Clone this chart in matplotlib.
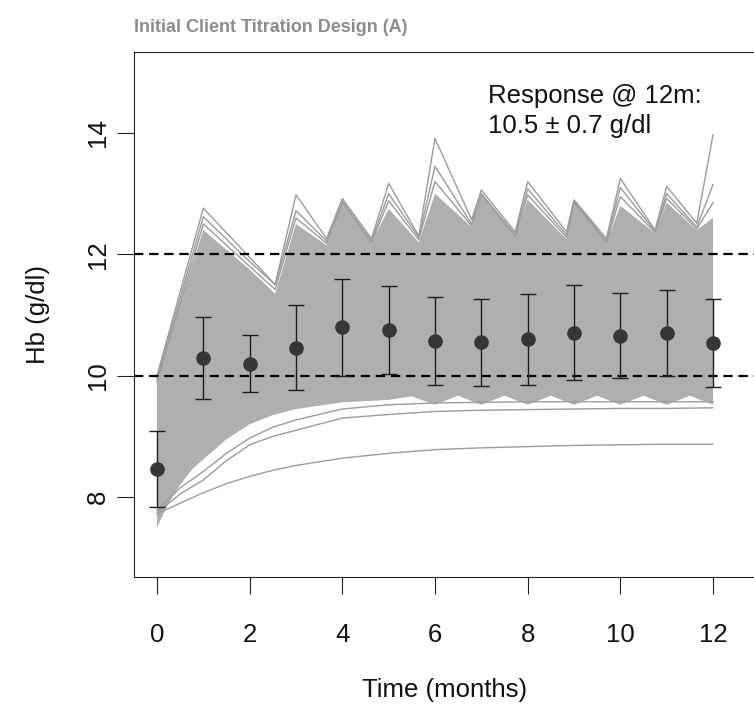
import numpy as np
import matplotlib
matplotlib.use("Agg")
import matplotlib.pyplot as plt
from matplotlib import font_manager

# ---- data -------------------------------------------------------------
months = np.arange(0, 13)
hb_mean = [8.46, 10.29, 10.20, 10.46, 10.80, 10.75, 10.57, 10.55, 10.60, 10.71, 10.66, 10.70, 10.54]
hb_sd = [0.62, 0.67, 0.47, 0.70, 0.80, 0.72, 0.72, 0.72, 0.75, 0.78, 0.70, 0.71, 0.72]
target_low, target_high = 10, 12

# time grid for the titrated (saw-tooth) trajectories
t_saw = [0, 1, 2, 2.55, 3, 3.66, 4, 4.63, 5, 5.65, 6, 6.79, 7, 7.73, 8, 8.84, 9, 9.7,
         10, 10.75, 11, 11.65, 12]
# upper edge of the bulk of simulated patients
band_upper = [10.0, 12.40, 11.75, 11.35, 12.50, 12.15, 12.85, 12.20, 12.75, 12.20, 13.00, 12.45,
              12.95, 12.30, 12.90, 12.25, 12.88, 12.20, 12.80, 12.35, 12.85, 12.40, 12.60]
# individual high responders
high_1 = [10.0, 12.76, 11.95, 11.50, 12.98, 12.26, 12.92, 12.26, 13.17, 12.30, 13.91, 12.57,
          13.06, 12.37, 13.20, 12.37, 12.90, 12.26, 13.25, 12.40, 13.12, 12.51, 13.97]
high_2 = [9.95, 12.62, 11.88, 11.50, 12.72, 12.22, 12.88, 12.22, 13.00, 12.28, 13.45, 12.50,
          13.00, 12.33, 13.08, 12.32, 12.88, 12.22, 13.10, 12.38, 13.00, 12.45, 13.15]
high_3 = [9.90, 12.50, 11.80, 11.42, 12.60, 12.18, 12.86, 12.20, 12.88, 12.24, 13.20, 12.47,
          12.97, 12.30, 12.98, 12.28, 12.86, 12.20, 12.95, 12.36, 12.92, 12.42, 12.85]

# lower edge of the bulk of simulated patients
t_band_low = [0, 0.25, 0.5, 0.75, 1, 1.5, 2, 2.5, 3, 4, 5, 5.5, 6, 6.5, 7, 7.5, 8, 8.5, 9,
              9.5, 10, 10.5, 11, 11.5, 12]
band_lower = [7.50, 7.90, 8.20, 8.45, 8.62, 8.95, 9.20, 9.35, 9.45, 9.56, 9.60, 9.66, 9.52,
              9.67, 9.52, 9.67, 9.52, 9.67, 9.52, 9.67, 9.52, 9.67, 9.52, 9.67, 9.52]

# individual low responders
t_low = [0, 0.5, 1, 1.5, 2, 2.5, 3, 4, 5, 6, 7, 8, 9, 10, 11, 12]
low_1 = [7.72, 7.90, 8.07, 8.22, 8.34, 8.44, 8.52, 8.64, 8.72, 8.78, 8.81, 8.83, 8.85, 8.86, 8.87, 8.87]
low_2 = [7.74, 8.05, 8.28, 8.60, 8.86, 9.00, 9.10, 9.30, 9.36, 9.41, 9.43, 9.44, 9.45, 9.46, 9.46, 9.47]
low_3 = [7.78, 8.15, 8.42, 8.72, 8.97, 9.15, 9.27, 9.45, 9.52, 9.55, 9.56, 9.57, 9.57, 9.57, 9.57, 9.57]

title = "Initial Client Titration Design (A)"

# ---- fonts ------------------------------------------------------------
installed = {f.name for f in font_manager.fontManager.ttflist}
base_font = "Liberation Sans" if "Liberation Sans" in installed else "DejaVu Sans"
title_font = "Liberation Sans Narrow" if "Liberation Sans Narrow" in installed else base_font
plt.rcParams["font.family"] = [base_font, "DejaVu Sans"]

FS = 18.5

# ---- figure -----------------------------------------------------------
fig = plt.figure(figsize=(7.54, 7.12), dpi=100)
ax = fig.add_axes([134 / 754, 1 - 577 / 712, (755 - 134) / 754, (577 - 52) / 712])

band_fill = "#afafaf"
line_grey = "#9c9c9c"

ax.fill(np.concatenate([t_saw, t_band_low[::-1]]),
        np.concatenate([band_upper, band_lower[::-1]]),
        color=band_fill, lw=0, zorder=1)
for path in (high_1, high_2, high_3):
    ax.plot(t_saw, path, color=line_grey, lw=1.0, zorder=2)
for path in (low_1, low_2, low_3):
    ax.plot(t_low, path, color=line_grey, lw=1.0, zorder=2)

for level in (target_low, target_high):
    ax.axhline(level, color="black", lw=1.6, dashes=(4.2, 2.6), zorder=3)

ax.errorbar(months, hb_mean, yerr=hb_sd, fmt="o", color="#1c1c1c", ecolor="#1c1c1c",
            elinewidth=1.0, capsize=5.5, capthick=1.0, markersize=9.5,
            markerfacecolor="#363636", markeredgecolor="#363636", zorder=4)

resp_mean, resp_sd = hb_mean[-1], hb_sd[-1]
ax.text(7.14, 14.49, "Response @ 12m:", fontsize=FS, ha="left", va="baseline", color="#111111")
ax.text(7.14, 14.0, f"{resp_mean:.1f} \u00b1 {resp_sd:.1f} g/dl", fontsize=FS,
        ha="left", va="baseline", color="#111111")

# ---- axes styling -----------------------------------------------------
ax.set_xlim(-0.4964, 12.9065)
ax.set_ylim(6.681, 15.335)
ax.set_xticks(range(0, 13, 2))
ax.set_yticks([8, 10, 12, 14])
ax.tick_params(axis="both", direction="out", length=11.9, width=0.8, labelsize=FS,
               color="#222222", labelcolor="#111111")
ax.tick_params(axis="x", pad=21)
ax.tick_params(axis="y", pad=5.5, labelrotation=90)
for lab in ax.get_yticklabels():
    lab.set_va("center")
for side in ("left", "bottom", "top"):
    ax.spines[side].set_linewidth(0.8)
    ax.spines[side].set_color("#222222")
ax.spines["right"].set_visible(False)

ax.set_xlabel("Time (months)", fontsize=FS, color="#111111")
ax.xaxis.set_label_coords(0.5, (577 - 690) / 525)
ax.xaxis.label.set_va("center")
ax.set_ylabel("Hb (g/dl)", fontsize=FS, color="#111111")
ax.yaxis.set_label_coords((38 - 134) / 621, 0.5)
ax.yaxis.label.set_va("center")
ax.yaxis.label.set_ha("center")

fig.text(134 / 754, 1 - 27 / 712, title, ha="left", va="center", fontsize=13,
         fontweight="bold", color="#8c8c8c", family=[title_font, "DejaVu Sans"])

fig.savefig("out.png", dpi=100)
